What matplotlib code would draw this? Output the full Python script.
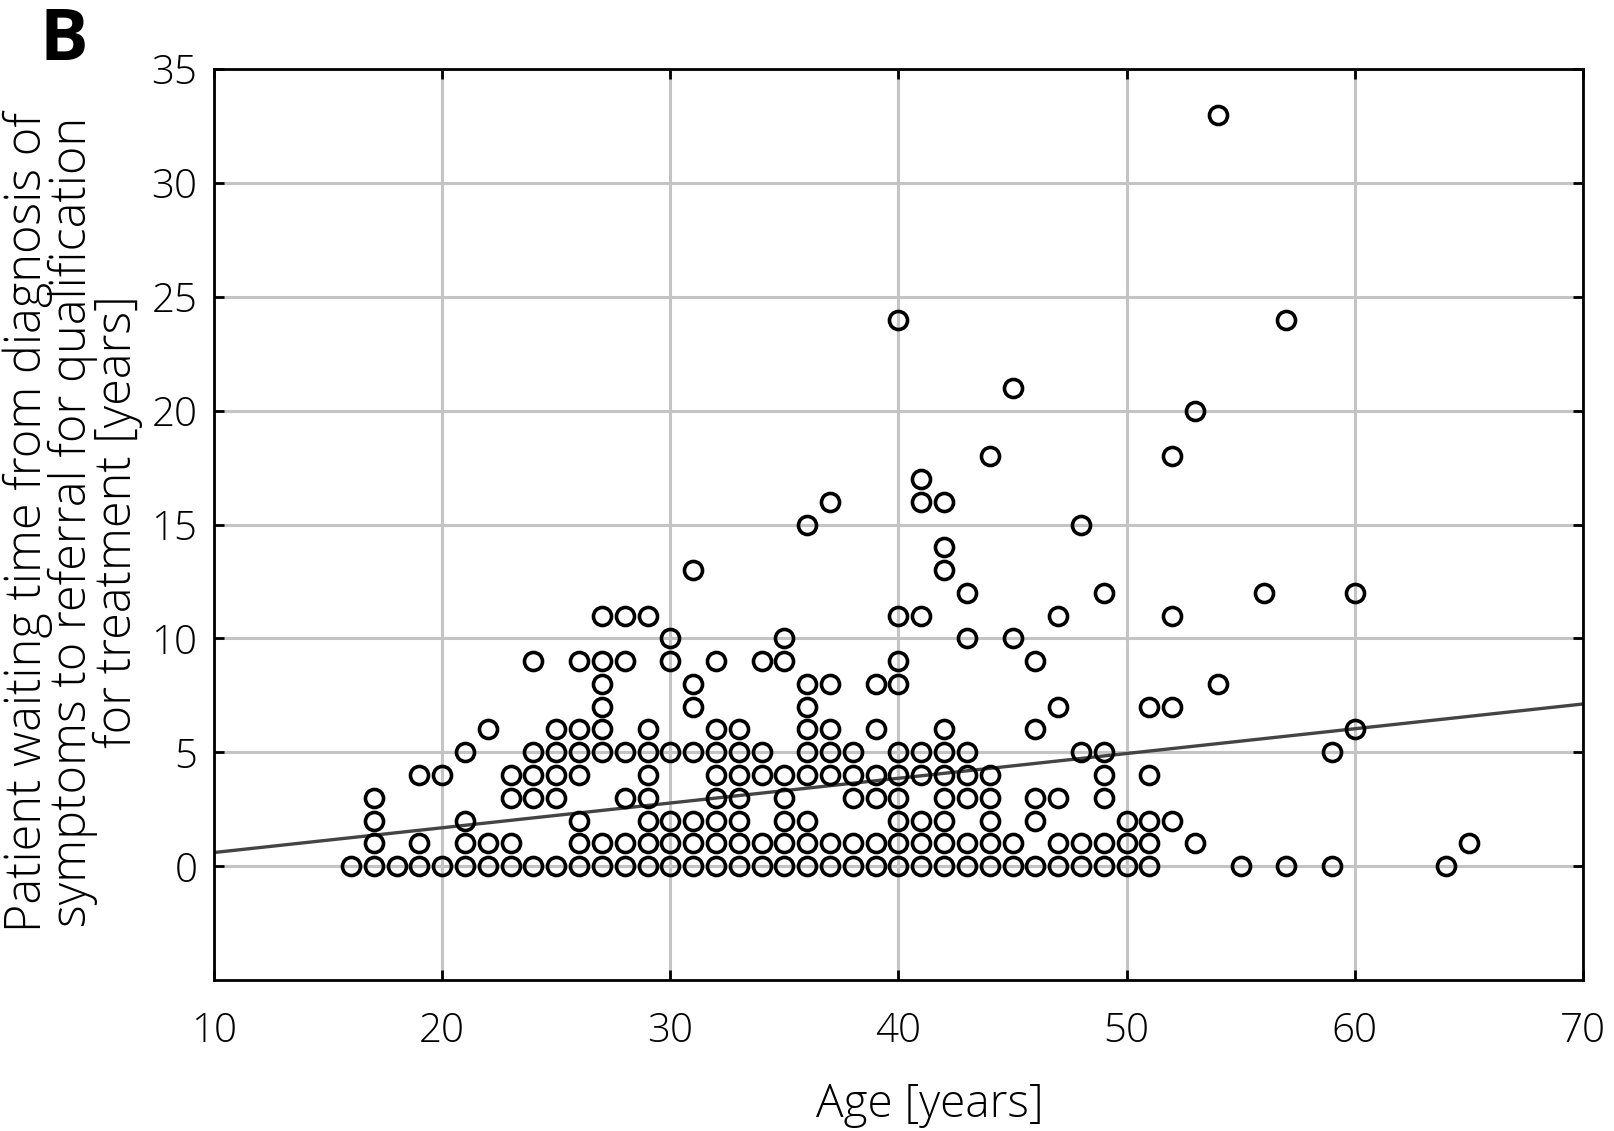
import matplotlib
matplotlib.use("Agg")
import matplotlib.pyplot as plt
import numpy as np

# ---- data: waiting time values (years) per age (years) ----
ages = [16, 17, 18, 19, 20, 21, 22, 23, 24, 25, 26, 27, 28, 29, 30, 31, 32, 33, 34, 35,
        36, 37, 38, 39, 40, 41, 42, 43, 44, 45, 46, 47, 48, 49, 50, 51, 52, 53, 54, 55,
        56, 57, 59, 60, 64, 65]
waits = [
    [0],
    [0, 1, 2, 3],
    [0],
    [0, 1, 4],
    [0, 4],
    [0, 1, 2, 5],
    [0, 1, 6],
    [0, 1, 3, 4],
    [0, 3, 4, 5, 9],
    [0, 3, 4, 5, 6],
    [0, 1, 2, 4, 5, 6, 9],
    [0, 1, 5, 6, 7, 8, 9, 11],
    [0, 1, 3, 5, 9, 11],
    [0, 1, 2, 3, 4, 5, 6, 11],
    [0, 1, 2, 5, 9, 10],
    [0, 1, 2, 5, 7, 8, 13],
    [0, 1, 2, 3, 4, 5, 6, 9],
    [0, 1, 2, 3, 4, 5, 6],
    [0, 1, 4, 5, 9],
    [0, 1, 2, 3, 4, 9, 10],
    [0, 1, 2, 4, 5, 6, 7, 8, 15],
    [0, 1, 4, 5, 6, 8, 16],
    [0, 1, 3, 4, 5],
    [0, 1, 3, 4, 6, 8],
    [0, 1, 2, 3, 4, 5, 8, 9, 11, 24],
    [0, 1, 2, 4, 5, 11, 16, 17],
    [0, 1, 2, 3, 4, 5, 6, 13, 14, 16],
    [0, 1, 3, 4, 5, 10, 12],
    [0, 1, 2, 3, 4, 18],
    [0, 1, 10, 21],
    [0, 2, 3, 6, 9],
    [0, 1, 3, 7, 11],
    [0, 1, 5, 15],
    [0, 1, 3, 4, 5, 12],
    [0, 1, 2],
    [0, 1, 2, 4, 7],
    [2, 7, 11, 18],
    [1, 20],
    [8, 33],
    [0],
    [12],
    [0, 24],
    [0, 5],
    [6, 12],
    [0],
    [1],
]
# regression line: y = intercept + slope * age
fit_intercept = -0.49
fit_slope = 0.1087
fit_range = [10, 70]

xticks = [10, 20, 30, 40, 50, 60, 70]
yticks = [0, 5, 10, 15, 20, 25, 30, 35]

x_pts = [a for a, ws in zip(ages, waits) for _ in ws]
y_pts = [w for ws in waits for w in ws]

plt.rcParams['font.family'] = ['Open Sans', 'DejaVu Sans']

W, H = 1614, 1131
fig = plt.figure(figsize=(W / 100, H / 100), dpi=100)
ax = fig.add_axes([214 / W, 1 - 980 / H, (1583 - 214) / W, (980 - 69) / H])

ax.grid(True, color='#c4c4c4', linewidth=2.2, zorder=0)
ax.set_axisbelow(True)

fx = np.array(fit_range, dtype=float)
ax.plot(fx, fit_intercept + fit_slope * fx, color='#444444', linewidth=2.4, zorder=2)

ax.plot(x_pts, y_pts, linestyle='none', marker='o', markersize=13,
        markerfacecolor='none', markeredgecolor='black', markeredgewidth=2.6, zorder=3)

ax.set_xlim(10, 70)
ax.set_ylim(-5, 35)
ax.set_xticks(xticks)
ax.set_yticks(yticks)
ax.tick_params(axis='both', which='major', direction='in', length=7, width=2,
               top=True, right=True, labelsize=29, color='black')
ax.tick_params(axis='x', pad=22)
ax.tick_params(axis='y', pad=12)
for lab in ax.get_xticklabels() + ax.get_yticklabels():
    lab.set_fontweight('light')
for s in ax.spines.values():
    s.set_linewidth(2.0)
    s.set_color('black')

ax.set_xlabel('Age [years]', fontsize=33, fontweight='light')
ax.xaxis.set_label_coords(0.523, -0.112)
ax.set_ylabel('Patient waiting time from diagnosis of\nsymptoms to referral for qualification\nfor treatment [years]',
              fontsize=35, fontweight='light', multialignment='center', linespacing=0.86)
ax.yaxis.set_label_coords(-0.052, 0.503)

fig.text(40 / W, 1 - 5 / H, 'B', fontsize=52, fontweight='bold', ha='left', va='top')

fig.savefig('out.png', dpi=100)
